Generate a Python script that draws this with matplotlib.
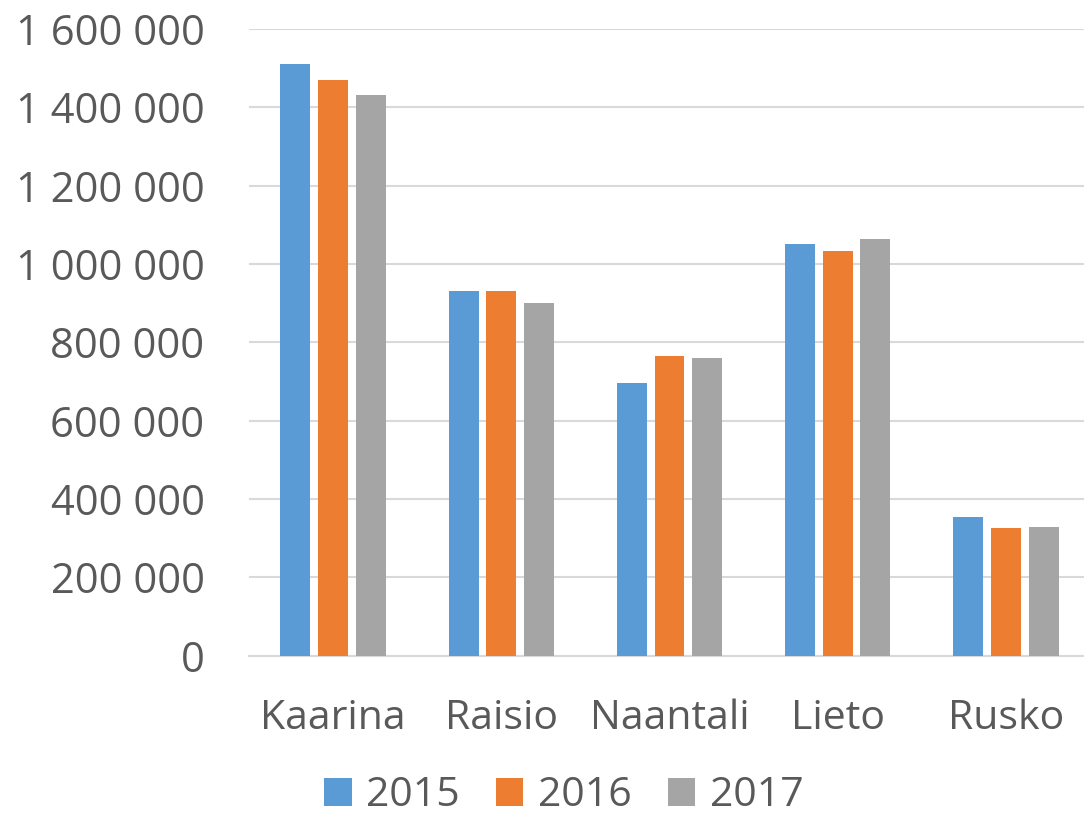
import matplotlib
matplotlib.use("Agg")
import matplotlib.pyplot as plt
import numpy as np
from matplotlib.ticker import FuncFormatter, MultipleLocator

categories = ["Kaarina", "Raisio", "Naantali", "Lieto", "Rusko"]
years = ["2015", "2016", "2017"]
values_2015 = [1510000, 931000, 695000, 1050000, 353000]
values_2016 = [1470000, 931000, 765000, 1032000, 326000]
values_2017 = [1431000, 900000, 761000, 1065000, 329000]
colors = ["#5B9BD5", "#ED7D31", "#A5A5A5"]

plt.rcParams['font.family'] = ['Open Sans', 'DejaVu Sans']
text_color = "#595959"

fig = plt.figure(figsize=(10.84, 8.16), dpi=100)
W, H = 1084, 816
left, right = 249, 1090
bottom, top = 655.7, 29
ax = fig.add_axes([left / W, 1 - bottom / H, (right - left) / W, (bottom - top) / H])

x = np.arange(len(categories))
bw = 0.178
step = 0.224
series = [values_2015, values_2016, values_2017]
for i, (vals, c, yr) in enumerate(zip(series, colors, years)):
    ax.bar(x + (i - 1) * step, vals, width=bw, color=c, label=yr, zorder=3)

ax.set_xlim(-0.5, len(categories) - 0.5)
ax.set_ylim(0, 1600000)
ax.yaxis.set_major_locator(MultipleLocator(200000))
ax.yaxis.set_major_formatter(FuncFormatter(lambda v, p: f"{int(v):,}".replace(",", " ")))
ax.grid(axis='y', color="#D9D9D9", linewidth=1.5, zorder=0)
ax.set_axisbelow(True)
for s in ["top", "right", "left"]:
    ax.spines[s].set_visible(False)
ax.spines["bottom"].set_color("#D9D9D9")
ax.spines["bottom"].set_linewidth(1.5)

ax.set_xticks(x)
ax.set_xticklabels(categories)
ax.tick_params(axis='y', length=0, pad=32, labelsize=30, labelcolor=text_color)
ax.tick_params(axis='x', length=0, pad=31, labelsize=29.5, labelcolor=text_color)

leg = fig.legend(loc='center', bbox_to_anchor=(564 / W, 1 - 796 / H), ncol=3,
                 frameon=False, fontsize=29.5, handlelength=0.66, handleheight=0.66,
                 handletextpad=0.35, columnspacing=0.9, borderpad=0)
for t in leg.get_texts():
    t.set_color(text_color)

fig.savefig("out.png", dpi=100)
